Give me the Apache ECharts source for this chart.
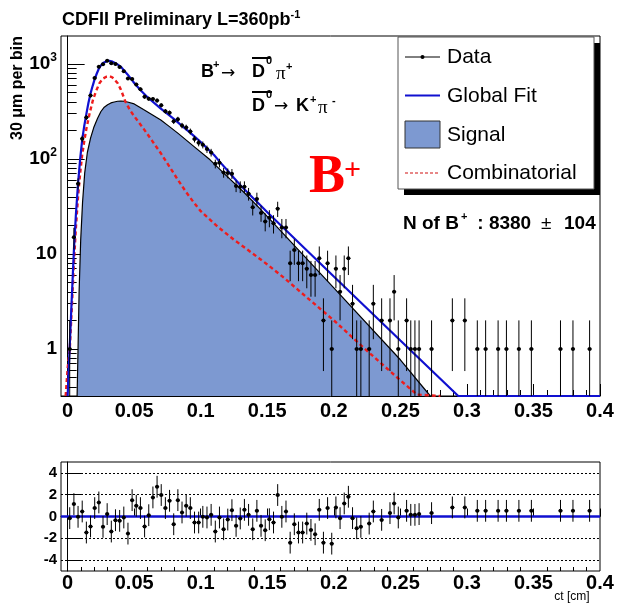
<!DOCTYPE html>
<html><head><meta charset="utf-8">
<script src="https://cdn.jsdelivr.net/npm/echarts@6/dist/echarts.min.js"></script>
<style>html,body{margin:0;padding:0;background:#fff}#c{width:617px;height:603px}</style>
</head><body><div id="c"></div>
<script>
// ---------- data ----------
const binWidth = 0.003125; // cm
const binIndex = [0,1,2,3,4,5,6,7,8,9,10,11,12,13,14,15,16,17,18,19,20,21,22,23,24,25,26,27,28,29,
  30,31,32,33,34,35,36,37,38,39,40,41,42,43,44,45,46,47,48,49,50,51,52,53,54,55,56,57,58,59,
  60,61,62,63,64,65,66,67,68,69,70,72,73,75,77,78,79,81,82,83,84,87,92,95,98,100,103,105,108,111,118,121,125];
const counts = [1,15,55,163,274,466,712,934,996,1079,
  1019,998,928,838,705,693,609,543,452,430,
  428,412,367,318,306,249,262,225,215,195,
  162,148,141,127,117,89,91,72,71,70,
  52,51,51,43,31,38,27,22,24,21,
  30,19,19,8,11,8,8,7,6,6,
  9,2,8,1,7,4,7,9,3,1,1,
  1,3,2,2,4,1,2,1,1,1,1,
  2,2,1,1,1,1,1,1,1,1,1];
const pulls = [-0.15,1.14,-0.03,0.46,-1.47,-0.92,0.77,1.29,-0.95,0.22,
  -1.38,-0.34,-0.40,-0.09,-1.57,1.50,0.98,0.77,-0.92,0.12,
  1.75,2.73,1.97,0.77,1.44,-0.71,1.50,0.37,0.98,0.77,
  -0.55,-0.55,-0.03,-0.09,0.15,-1.38,-0.09,-1.17,-0.28,0.58,
  -0.86,-0.18,0.61,0.15,-1.17,0.52,-0.86,-1.26,-0.25,-0.55,
  1.97,-0.03,0.46,-2.40,-0.71,-1.47,-1.47,-0.65,-1.23,-1.63,
  0.61,-2.40,0.77,-2.49,0.83,-0.15,1.20,1.81,-0.15,-1.08,-0.95,
  -0.65,0.46,-0.31,0.31,1.20,-0.09,0.52,0.15,0.15,0.22,0.31,
  0.83,0.83,0.52,0.52,0.52,0.52,0.52,0.52,0.52,0.52,0.52];

// Global fit (blue)
const fitX = [0,0.0008,0.0016,0.0030,0.0047,0.0062,0.0078,0.0094,0.0109,0.0125,0.0141,0.0156,0.0172,0.0188,0.0203,0.0219,0.0234,0.0250,0.0266,0.0281,0.0297,0.0313,0.0330,0.0345,0.0360,0.0380,0.0400,0.0425,0.0450,0.0475,0.0500,0.0550,0.0600,0.0650,0.0700,0.0750,0.0800,0.0850,0.0900,0.0950,0.1000,0.1050,0.1100,0.1150,0.1200,0.1250,0.1300,0.1350,0.1400,0.1450,0.1500,0.2000,0.2500,0.2935,0.4000];
const fitY = [0.32,0.60,1.10,3.2,11,26,55,100,158,224,300,389,490,589,692,794,891,966,1023,1059,1076,1079,1067,1047,1019,977,933,851,776,700,631,525,447,389,339,299,263,229,200,174,151,129,110,91,76,63,52.5,44.7,38,32.4,27.5,5.8,1.23,0.32,0.32];

// Signal (filled)
const sigX = [0.0071,0.0078,0.0086,0.0098,0.0112,0.0128,0.0148,0.0172,0.0196,0.0225,0.0250,0.0275,0.0300,0.0325,0.0350,0.0375,0.0400,0.0425,0.0450,0.0500,0.0570,0.0635,0.0700,0.0765,0.0830,0.0950,0.1070,0.1200,0.1320,0.1450,0.2000,0.2500,0.2725];
const sigY = [0.32,1.0,4,14,35,71,117,166,214,269,316,351,372,389,398,405,407,405,398,380,331,292,257,219,186,135,98,65.3,45.2,29.5,4.4,0.77,0.32];

// Combinatorial (red dashed)
const combX = [-0.0015,0,0.0016,0.0030,0.0047,0.0062,0.0078,0.0094,0.0109,0.0125,0.0141,0.0165,0.0190,0.0215,0.0240,0.0265,0.0290,0.0315,0.0335,0.0350,0.0375,0.0400,0.0435,0.0470,0.0500,0.0570,0.0635,0.0700,0.0765,0.0826,0.0886,0.0946,0.1000,0.1125,0.1250,0.1375,0.1500,0.1625,0.1750,0.1875,0.2000,0.2125,0.2250,0.2375,0.2500,0.2625,0.2800];
const combY = [0.32,0.63,1.0,2.5,8,19,40,71,110,155,209,302,417,525,631,700,733,741,724,708,631,537,398,324,282,209,155,115,83,61,45.7,35.1,28.2,19.5,14.1,10.5,7.76,5.62,3.98,2.82,2.0,1.38,0.955,0.668,0.468,0.331,0.32];

const xMajorTicks = [0,0.05,0.1,0.15,0.2,0.25,0.3,0.35,0.4];
const yMajorTicks = [1,10,100,1000];
const pullTicks = [-4,-2,0,2,4];

// ---------- helpers ----------
const yMin = 0.32, yMax = 1970;
const FONT = 'Liberation Sans, Arial, Helvetica, sans-serif';
const SERIF = 'Liberation Serif, Times New Roman, serif';
const xMinor = [];
for (let i = 1; i < 40; i++) { if (i % 5) xMinor.push(+(i * 0.01).toFixed(2)); }
const yMinor = [];
[0.1, 1, 10, 100].forEach(d => { for (let m = 2; m <= 9; m++) { const v = +(m * d).toPrecision(3); if (v > yMin && v < yMax) yMinor.push(v); } });

const dataPts = binIndex.map((k, i) => [(k + 0.5) * binWidth, counts[i]]);
const pullPts = binIndex.map((k, i) => [(k + 0.5) * binWidth, pulls[i]]);
const zip = (a, b) => a.map((v, i) => [v, b[i]]);

function renderData(params, api) {
  const x = api.value(0), n = api.value(1);
  const e = Math.sqrt(n);
  const lo = Math.max(n - e, yMin), hi = Math.min(n + e, yMax);
  const c = api.coord([x, n]), pl = api.coord([x, lo]), ph = api.coord([x, hi]);
  const a = api.coord([x - binWidth / 2, n]), b = api.coord([x + binWidth / 2, n]);
  const st = { stroke: '#000', lineWidth: 1 };
  return { type: 'group', children: [
    { type: 'line', shape: { x1: c[0], y1: pl[1], x2: c[0], y2: ph[1] }, style: st },
    { type: 'line', shape: { x1: a[0], y1: c[1], x2: b[0], y2: c[1] }, style: st },
    { type: 'circle', shape: { cx: c[0], cy: c[1], r: 2 }, style: { fill: '#000' } }
  ]};
}
function renderPull(params, api) {
  const x = api.value(0), p = api.value(1);
  const c = api.coord([x, p]), pl = api.coord([x, p - 1]), ph = api.coord([x, p + 1]);
  const a = api.coord([x - binWidth / 2, p]), b = api.coord([x + binWidth / 2, p]);
  const st = { stroke: '#000', lineWidth: 1 };
  return { type: 'group', children: [
    { type: 'line', shape: { x1: c[0], y1: pl[1], x2: c[0], y2: ph[1] }, style: st },
    { type: 'line', shape: { x1: a[0], y1: c[1], x2: b[0], y2: c[1] }, style: st },
    { type: 'circle', shape: { cx: c[0], cy: c[1], r: 2 }, style: { fill: '#000' } }
  ]};
}

const lblBold = (size) => ({ color: '#000', fontFamily: FONT, fontWeight: 'bold', fontSize: size });
const txt = (x, y, text, font, opts = {}) => Object.assign({
  type: 'text', x: x, y: y, silent: true,
  style: Object.assign({ text: text, font: font, fill: opts.fill || '#000', textAlign: opts.align || 'left', align: opts.align || 'left', textVerticalAlign: 'middle', verticalAlign: 'middle' }, opts.style || {})
}, opts.el || {});

const chart = echarts.init(document.getElementById('c'), null, { renderer: 'canvas' });
const option = {
  animation: false,
  backgroundColor: '#fff',
  textStyle: { fontFamily: FONT },
  grid: [
    { left: 61, top: 36, width: 539, height: 360, show: true, borderColor: '#000', borderWidth: 1, backgroundColor: 'transparent' },
    { left: 61, top: 462, width: 539, height: 109, show: true, borderColor: '#000', borderWidth: 1, backgroundColor: 'transparent' }
  ],
  xAxis: [
    { gridIndex: 0, type: 'value', min: -0.005, max: 0.4, position: 'bottom',
      axisLine: { show: true, lineStyle: { color: '#000', width: 1 } },
      axisTick: { show: true, inside: true, length: 12, customValues: xMajorTicks, lineStyle: { color: '#000' } },
      axisLabel: Object.assign(lblBold(20), { customValues: xMajorTicks, margin: 5, formatter: v => String(v) }),
      splitLine: { show: false } },
    { gridIndex: 0, type: 'value', min: -0.005, max: 0.4, position: 'bottom',
      axisLine: { show: false }, axisLabel: { show: false }, splitLine: { show: false },
      axisTick: { show: true, inside: true, length: 6, customValues: xMinor, lineStyle: { color: '#000' } } },
    { gridIndex: 1, type: 'value', min: -0.005, max: 0.4, position: 'bottom',
      axisLine: { show: true, lineStyle: { color: '#000', width: 1 } },
      axisTick: { show: true, inside: true, length: 8, customValues: xMajorTicks, lineStyle: { color: '#000' } },
      axisLabel: Object.assign(lblBold(20), { customValues: xMajorTicks, margin: 2, formatter: v => String(v) }),
      splitLine: { show: false } },
    { gridIndex: 1, type: 'value', min: -0.005, max: 0.4, position: 'bottom',
      axisLine: { show: false }, axisLabel: { show: false }, splitLine: { show: false },
      axisTick: { show: true, inside: true, length: 4, customValues: xMinor, lineStyle: { color: '#000' } } }
  ],
  yAxis: [
    { gridIndex: 0, type: 'log', logBase: 10, min: yMin, max: yMax, position: 'left',
      axisLine: { show: true, lineStyle: { color: '#000', width: 1 } },
      axisTick: { show: true, inside: true, length: 17, customValues: yMajorTicks, lineStyle: { color: '#000' } },
      axisLabel: { customValues: yMajorTicks, margin: 4, color: '#000',
        formatter: v => { const l = Math.round(Math.log10(v)); return l <= 1 ? '{m|' + Math.round(v) + '}' : '{m|10}{s|' + l + '}'; },
        rich: { m: { fontFamily: FONT, fontWeight: 'bold', fontSize: 19, lineHeight: 24, color: '#000' },
                s: { fontFamily: FONT, fontWeight: 'bold', fontSize: 12, lineHeight: 12, verticalAlign: 'top', color: '#000' } } },
      splitLine: { show: false } },
    { gridIndex: 0, type: 'log', logBase: 10, min: yMin, max: yMax, position: 'left',
      axisLine: { show: false }, axisLabel: { show: false }, splitLine: { show: false },
      axisTick: { show: true, inside: true, length: 9, customValues: yMinor, lineStyle: { color: '#000' } } },
    { gridIndex: 1, type: 'value', min: -5, max: 5, position: 'left',
      axisLine: { show: true, lineStyle: { color: '#000', width: 1 } },
      axisTick: { show: true, inside: true, length: 14, customValues: pullTicks, lineStyle: { color: '#000' } },
      axisLabel: Object.assign(lblBold(15), { customValues: pullTicks, margin: 4 }),
      splitLine: { show: false } }
  ],
  series: [
    { name: 'Signal', type: 'line', xAxisIndex: 0, yAxisIndex: 0, data: zip(sigX, sigY), showSymbol: false, symbol: 'none',
      smooth: false, clip: true, z: 1,
      lineStyle: { color: '#000', width: 1.2 }, areaStyle: { color: '#7d99d1', opacity: 1, origin: 'start' } },
    { name: 'Combinatorial', type: 'line', xAxisIndex: 0, yAxisIndex: 0, data: zip(combX, combY), showSymbol: false, symbol: 'none',
      smooth: false, clip: true, z: 2,
      lineStyle: { color: '#ee1c1c', width: 2.4, type: [4, 3] } },
    { name: 'Global Fit', type: 'line', xAxisIndex: 0, yAxisIndex: 0, data: zip(fitX, fitY), showSymbol: false, symbol: 'none',
      smooth: false, clip: true, z: 3,
      lineStyle: { color: '#1010d0', width: 2.2 } },
    { name: 'Data', type: 'custom', xAxisIndex: 0, yAxisIndex: 0, data: dataPts, renderItem: renderData, clip: true, z: 4 },
    { name: 'zero', type: 'line', xAxisIndex: 2, yAxisIndex: 2, data: [[-0.005, 0], [0.4, 0]], showSymbol: false, symbol: 'none', z: 3,
      lineStyle: { color: '#1010d0', width: 2.5 },
      markLine: { silent: true, symbol: 'none', label: { show: false }, animation: false,
        lineStyle: { color: '#000', width: 1, type: [2, 2] },
        data: [{ yAxis: 4 }, { yAxis: 2 }, { yAxis: -2 }, { yAxis: -4 }] } },
    { name: 'Pull', type: 'custom', xAxisIndex: 2, yAxisIndex: 2, data: pullPts, renderItem: renderPull, clip: true, z: 4 }
  ],
  graphic: [
    // title
    { type: 'text', x: 62, y: 20, silent: true, style: { text: '{t|CDFII Preliminary L=360pb}{s|-1}', textVerticalAlign: 'middle', verticalAlign: 'middle',
      rich: { t: { font: 'bold 18px ' + FONT, lineHeight: 22, fill: '#000', color: '#000' }, s: { font: 'bold 11px ' + FONT, lineHeight: 11, verticalAlign: 'top', fill: '#000', color: '#000' } } } },
    // y axis title
    txt(18, 88, '30 μm per bin', 'bold 16px ' + FONT, { align: 'center', el: { rotation: Math.PI / 2 } }),
    // decay annotation line 1
    txt(201, 72, 'B', 'bold 18px ' + FONT),
    txt(213, 65, '+', 'bold 11px ' + FONT),
    txt(221, 74, '→', '17px ' + 'DejaVu Sans, sans-serif'),
    txt(252, 72, 'D', 'bold 18px ' + FONT),
    { type: 'line', silent: true, shape: { x1: 252, y1: 58, x2: 270, y2: 58 }, style: { stroke: '#000', lineWidth: 2 } },
    txt(266, 61, '0', 'bold 11px ' + FONT),
    txt(276, 74, 'π', '19px ' + SERIF),
    txt(286, 67, '+', 'bold 11px ' + FONT),
    // line 2
    txt(252, 106, 'D', 'bold 18px ' + FONT),
    { type: 'line', silent: true, shape: { x1: 252, y1: 92, x2: 272, y2: 92 }, style: { stroke: '#000', lineWidth: 2 } },
    txt(266, 95, '0', 'bold 11px ' + FONT),
    txt(274, 107, '→', '17px ' + 'DejaVu Sans, sans-serif'),
    txt(296, 106, 'K', 'bold 18px ' + FONT),
    txt(310, 100, '+', 'bold 11px ' + FONT),
    txt(318, 108, 'π', '19px ' + SERIF),
    txt(332, 101, '-', 'bold 11px ' + FONT),
    // red B+
    txt(309, 178, 'B', 'bold 54px ' + SERIF, { fill: '#ff0000' }),
    txt(344, 171, '+', 'bold 30px ' + SERIF, { fill: '#ff0000' }),
    // yield
    txt(403, 224, 'N of B', 'bold 19px ' + FONT),
    txt(461, 217, '+', 'bold 11px ' + FONT),
    txt(472, 224, ' : 8380', 'bold 19px ' + FONT),
    txt(541, 224, '±', '19px ' + FONT),
    txt(564, 224, '104', 'bold 19px ' + FONT),
    // legend
    { type: 'rect', silent: true, shape: { x: 404, y: 43, width: 196, height: 152 }, style: { fill: '#000' } },
    { type: 'rect', silent: true, shape: { x: 398, y: 37, width: 196, height: 152 }, style: { fill: '#fff', stroke: '#555', lineWidth: 1 } },
    { type: 'line', silent: true, shape: { x1: 405, y1: 57, x2: 440, y2: 57 }, style: { stroke: '#000', lineWidth: 1 } },
    { type: 'circle', silent: true, shape: { cx: 422.5, cy: 57, r: 2 }, style: { fill: '#000' } },
    txt(447, 57, 'Data', '21px ' + FONT),
    { type: 'line', silent: true, shape: { x1: 405, y1: 95.5, x2: 440, y2: 95.5 }, style: { stroke: '#1010d0', lineWidth: 2 } },
    txt(447, 96, 'Global Fit', '21px ' + FONT),
    { type: 'rect', silent: true, shape: { x: 405, y: 121, width: 35, height: 27 }, style: { fill: '#7d99d1', stroke: '#333', lineWidth: 1 } },
    txt(447, 135, 'Signal', '21px ' + FONT),
    { type: 'line', silent: true, shape: { x1: 405, y1: 173, x2: 440, y2: 173 }, style: { stroke: '#d01010', lineWidth: 1.2, lineDash: [3, 2] } },
    txt(447, 173, 'Combinatorial', '21px ' + FONT),
    // lower x title
    txt(572, 597, 'ct [cm]', '12px ' + FONT, { align: 'center' })
  ]
};
chart.setOption(option);
</script></body></html>
